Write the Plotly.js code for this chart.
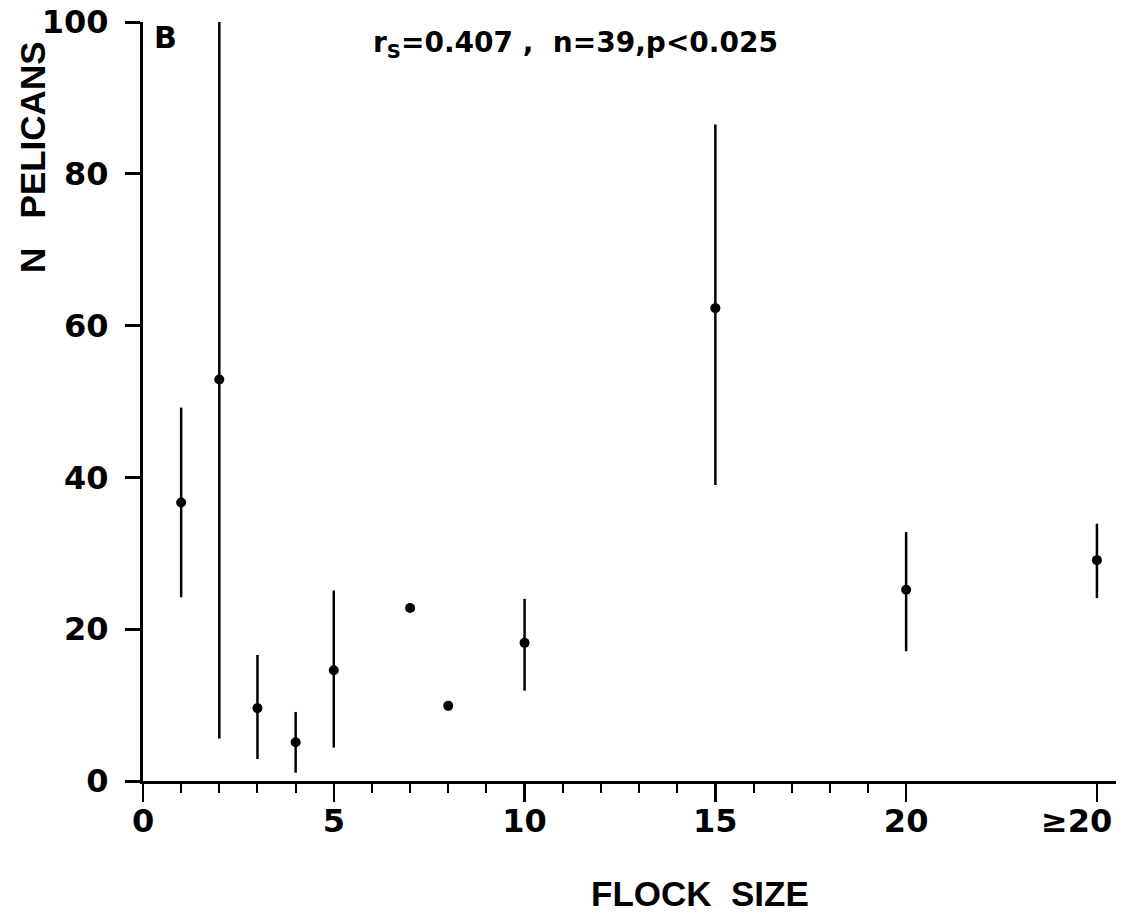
<!DOCTYPE html>
<html>
<head>
<meta charset="utf-8">
<script src="https://cdn.plot.ly/plotly-3.0.1.min.js"></script>
<style>
  html, body { margin: 0; padding: 0; background: #fff; }
  #chart { width: 1128px; height: 920px; }
</style>
</head>
<body>
<div id="chart"></div>
<script>
// Flock size classes (the last class, "≥20", sits at position 25)
const flockSize = [1, 2, 3, 4, 5, 7, 8, 10, 15, 20, 25];
// Mean number of pelicans per flock-size class
const meanPelicans = [36.7, 52.9, 9.6, 5.1, 14.6, 22.8, 9.9, 18.2, 62.3, 25.2, 29.1];
// Upper and lower ends of each range bar (null = single observation, no bar)
const upperPelicans = [49.2, 100, 16.6, 9.1, 25.1, null, null, 24.0, 86.5, 32.8, 33.9];
const lowerPelicans = [24.2, 5.6, 2.9, 1.1, 4.4, null, null, 11.9, 39.0, 17.1, 24.1];

const xTickVals = [0, 5, 10, 15, 20, 25];
// the last class label is drawn as an annotation so it can sit inside the right edge
const xTickText = ['0', '5', '10', '15', '20', ''];
const lastClassLabel = '≥20';
const lastClassPos = 25;
const xMinorVals = [1, 2, 3, 4, 6, 7, 8, 9, 11, 12, 13, 14, 16, 17, 18, 19];
const yTickVals = [0, 20, 40, 60, 80, 100];

const statsText = 'r<sub>S</sub>=0.407 ,  n=39,p&lt;0.025';

const errPlus = meanPelicans.map((m, i) => upperPelicans[i] == null ? 0 : upperPelicans[i] - m);
const errMinus = meanPelicans.map((m, i) => lowerPelicans[i] == null ? 0 : m - lowerPelicans[i]);

const FONT = 'DejaVu Sans, Liberation Sans, sans-serif';
const FONT_NARROW = 'Liberation Sans, Arial, sans-serif';

const trace = {
  type: 'scatter',
  mode: 'markers',
  x: flockSize,
  y: meanPelicans,
  marker: { color: '#000', size: 10 },
  error_y: {
    type: 'data',
    symmetric: false,
    array: errPlus,
    arrayminus: errMinus,
    color: '#000',
    thickness: 2.5,
    width: 0
  },
  cliponaxis: false,
  hoverinfo: 'x+y'
};

const layout = {
  width: 1128,
  height: 920,
  margin: { l: 143, r: 12, t: 22, b: 139 },
  paper_bgcolor: '#fff',
  plot_bgcolor: '#fff',
  showlegend: false,
  font: { family: FONT, color: '#000' },
  xaxis: {
    range: [0, 25.5],
    tickmode: 'array',
    tickvals: xTickVals,
    ticktext: xTickText,
    ticks: 'outside',
    ticklen: 18,
    tickwidth: 2.5,
    tickcolor: '#000',
    ticklabelstandoff: -8,
    tickfont: { family: FONT, size: 32, weight: 'bold', color: '#000' },
    minor: {
      tickmode: 'array',
      tickvals: xMinorVals,
      ticks: 'outside',
      ticklen: 9,
      tickwidth: 2,
      tickcolor: '#000',
      showgrid: false
    },
    showline: true,
    linecolor: '#000',
    linewidth: 3,
    showgrid: false,
    zeroline: false
  },
  yaxis: {
    range: [0, 100],
    tickmode: 'array',
    tickvals: yTickVals,
    ticks: 'outside',
    ticklen: 15,
    tickwidth: 3,
    tickcolor: '#000',
    ticklabelstandoff: 10,
    tickfont: { family: FONT, size: 32, weight: 'bold', color: '#000' },
    showline: true,
    linecolor: '#000',
    linewidth: 3,
    showgrid: false,
    zeroline: false
  },
  annotations: [
    {
      text: lastClassLabel, xref: 'x', yref: 'paper', x: lastClassPos, y: -0.0527,
      xshift: -20, xanchor: 'center', yanchor: 'middle', showarrow: false,
      font: { family: FONT, size: 32, weight: 'bold', color: '#000' }
    },
    {
      text: 'B', xref: 'paper', yref: 'paper', x: 0.0236, y: 0.980,
      xanchor: 'center', yanchor: 'middle', showarrow: false,
      font: { family: FONT, size: 30, weight: 'bold', color: '#000' }
    },
    {
      text: statsText, xref: 'paper', yref: 'paper', x: 0.445, y: 0.971,
      xanchor: 'center', yanchor: 'middle', showarrow: false,
      font: { family: FONT, size: 28, weight: 'bold', color: '#000' }
    },
    {
      text: 'FLOCK  SIZE', xref: 'paper', yref: 'paper', x: 0.5725, y: -0.1476,
      xanchor: 'center', yanchor: 'middle', showarrow: false,
      font: { family: FONT_NARROW, size: 35, weight: 'bold', color: '#000' }
    },
    {
      text: 'N   PELICANS', xref: 'paper', yref: 'paper', x: -0.113, y: 0.821,
      xanchor: 'center', yanchor: 'middle', showarrow: false, textangle: -90,
      font: { family: FONT_NARROW, size: 35, weight: 'bold', color: '#000' }
    }
  ]
};

Plotly.newPlot('chart', [trace], layout, { displayModeBar: false, staticPlot: true });
</script>
</body>
</html>
